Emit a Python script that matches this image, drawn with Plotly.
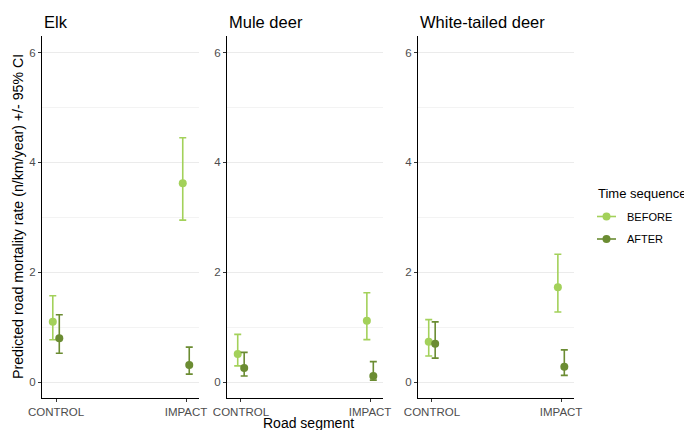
import plotly.graph_objects as go

species = ["Elk", "Mule deer", "White-tailed deer"]
segments = ["CONTROL", "IMPACT"]
sequences = ["BEFORE", "AFTER"]

# estimates [species][sequence][segment]
est = {
    "Elk":               {"BEFORE": [1.10, 3.62], "AFTER": [0.80, 0.315]},
    "Mule deer":         {"BEFORE": [0.515, 1.12], "AFTER": [0.26, 0.115]},
    "White-tailed deer": {"BEFORE": [0.74, 1.73], "AFTER": [0.70, 0.285]},
}
upper = {
    "Elk":               {"BEFORE": [1.575, 4.45], "AFTER": [1.23, 0.64]},
    "Mule deer":         {"BEFORE": [0.873, 1.63], "AFTER": [0.545, 0.376]},
    "White-tailed deer": {"BEFORE": [1.14, 2.33], "AFTER": [1.10, 0.59]},
}
lower = {
    "Elk":               {"BEFORE": [0.775, 2.95], "AFTER": [0.53, 0.15]},
    "Mule deer":         {"BEFORE": [0.30, 0.776], "AFTER": [0.115, 0.04]},
    "White-tailed deer": {"BEFORE": [0.48, 1.28], "AFTER": [0.44, 0.127]},
}

colors = {"BEFORE": "#a3d15a", "AFTER": "#6b8c32"}
dodge = {"BEFORE": -0.025, "AFTER": 0.025}

W, H = 692, 430
OX, OY = 8, 8  # page body margin offset


def px(X):
    return (X - OX) / W


def py(Y):
    return 1 - (Y - OY) / H


px_x = [(42, 199), (227, 383), (418, 574)]
y_top, y_bot = 36, 398
font = "Liberation Sans, Arial, sans-serif"

fig = go.Figure()
for i, sp in enumerate(species):
    ax = "" if i == 0 else str(i + 1)
    for seq in sequences:
        xs = [j + dodge[seq] for j in range(len(segments))]
        ys = est[sp][seq]
        up = [u - v for u, v in zip(upper[sp][seq], ys)]
        lo = [v - l for l, v in zip(lower[sp][seq], ys)]
        fig.add_trace(go.Scatter(
            x=xs, y=ys, mode="markers",
            marker=dict(color=colors[seq], size=8),
            error_y=dict(type="data", array=up, arrayminus=lo, symmetric=False,
                         color=colors[seq], thickness=1.6, width=3.5),
            xaxis="x" + ax, yaxis="y" + ax, showlegend=False,
            hovertemplate=sp + " " + seq + ": %{y}<extra></extra>",
        ))

layout = dict(
    width=W, height=H, margin=dict(l=0, r=0, t=0, b=0, autoexpand=False),
    paper_bgcolor="white", plot_bgcolor="white",
    font=dict(family=font, color="#000000"),
    showlegend=False,
)

annotations = []
shapes = []
for i, sp in enumerate(species):
    ax = "" if i == 0 else str(i + 1)
    x0, x1 = px_x[i]
    xk = "xaxis" + ax
    yk = "yaxis" + ax
    layout[xk] = dict(
        domain=[px(x0), px(x1)], anchor="y" + ax, automargin=False,
        range=[-0.108, 1.1], tickvals=[0, 1], ticktext=segments,
        showgrid=False, zeroline=False, showline=True, linecolor="#000", linewidth=1.1,
        ticks="outside", ticklen=3, tickcolor="#333", tickwidth=1,
        tickfont=dict(size=11.5, color="#4d4d4d", family=font), fixedrange=True,
    )
    layout[yk] = dict(
        domain=[py(y_bot), py(y_top)], anchor="x" + ax, automargin=False,
        range=[-0.285, 6.3], tickvals=[0, 2, 4, 6], ticktext=["0", "2", "4", "6"],
        showgrid=True, gridcolor="#ebebeb", gridwidth=1,
        minor=dict(tickvals=[1, 3, 5], showgrid=True, gridcolor="#f3f3f3", gridwidth=0.8),
        zeroline=False, showline=True, linecolor="#000", linewidth=1.1,
        ticks="outside", ticklen=3, tickcolor="#333", tickwidth=1,
        tickfont=dict(size=11.5, color="#4d4d4d", family=font), fixedrange=True,
    )
    annotations.append(dict(
        text=sp, x=px(x0), y=py(22), xref="paper", yref="paper",
        xanchor="left", yanchor="middle", showarrow=False,
        font=dict(size=16.5, color="#000", family=font),
    ))

annotations.append(dict(
    text="Road segment", x=px(308), y=py(423), xref="paper", yref="paper",
    xanchor="center", yanchor="middle", showarrow=False,
    font=dict(size=14, color="#000", family=font),
))
annotations.append(dict(
    text="Predicted road mortality rate (n/km/year) +/- 95% CI",
    x=px(18), y=py(217), xref="paper", yref="paper", textangle=-90,
    xanchor="center", yanchor="middle", showarrow=False,
    font=dict(size=14.2, color="#000", family=font),
))

# manual legend
annotations.append(dict(
    text="Time sequence", x=px(596), y=py(193), xref="paper", yref="paper",
    xanchor="left", yanchor="middle", showarrow=False,
    font=dict(size=13, color="#000", family=font),
))
for k, seq in enumerate(sequences):
    yc = 216.5 + 22.5 * k
    shapes.append(dict(type="line", xref="paper", yref="paper",
                       x0=px(597), x1=px(616), y0=py(yc), y1=py(yc),
                       line=dict(color=colors[seq], width=1.6)))
    shapes.append(dict(type="circle", xref="paper", yref="paper",
                       x0=px(602.5), x1=px(610.5), y0=py(yc + 4), y1=py(yc - 4),
                       fillcolor=colors[seq], line=dict(width=0)))
    annotations.append(dict(
        text=seq, x=px(625), y=py(yc), xref="paper", yref="paper",
        xanchor="left", yanchor="middle", showarrow=False,
        font=dict(size=11, color="#000", family=font),
    ))

layout["annotations"] = annotations
layout["shapes"] = shapes

fig.update_layout(**layout)
fig.write_html("out.html")
